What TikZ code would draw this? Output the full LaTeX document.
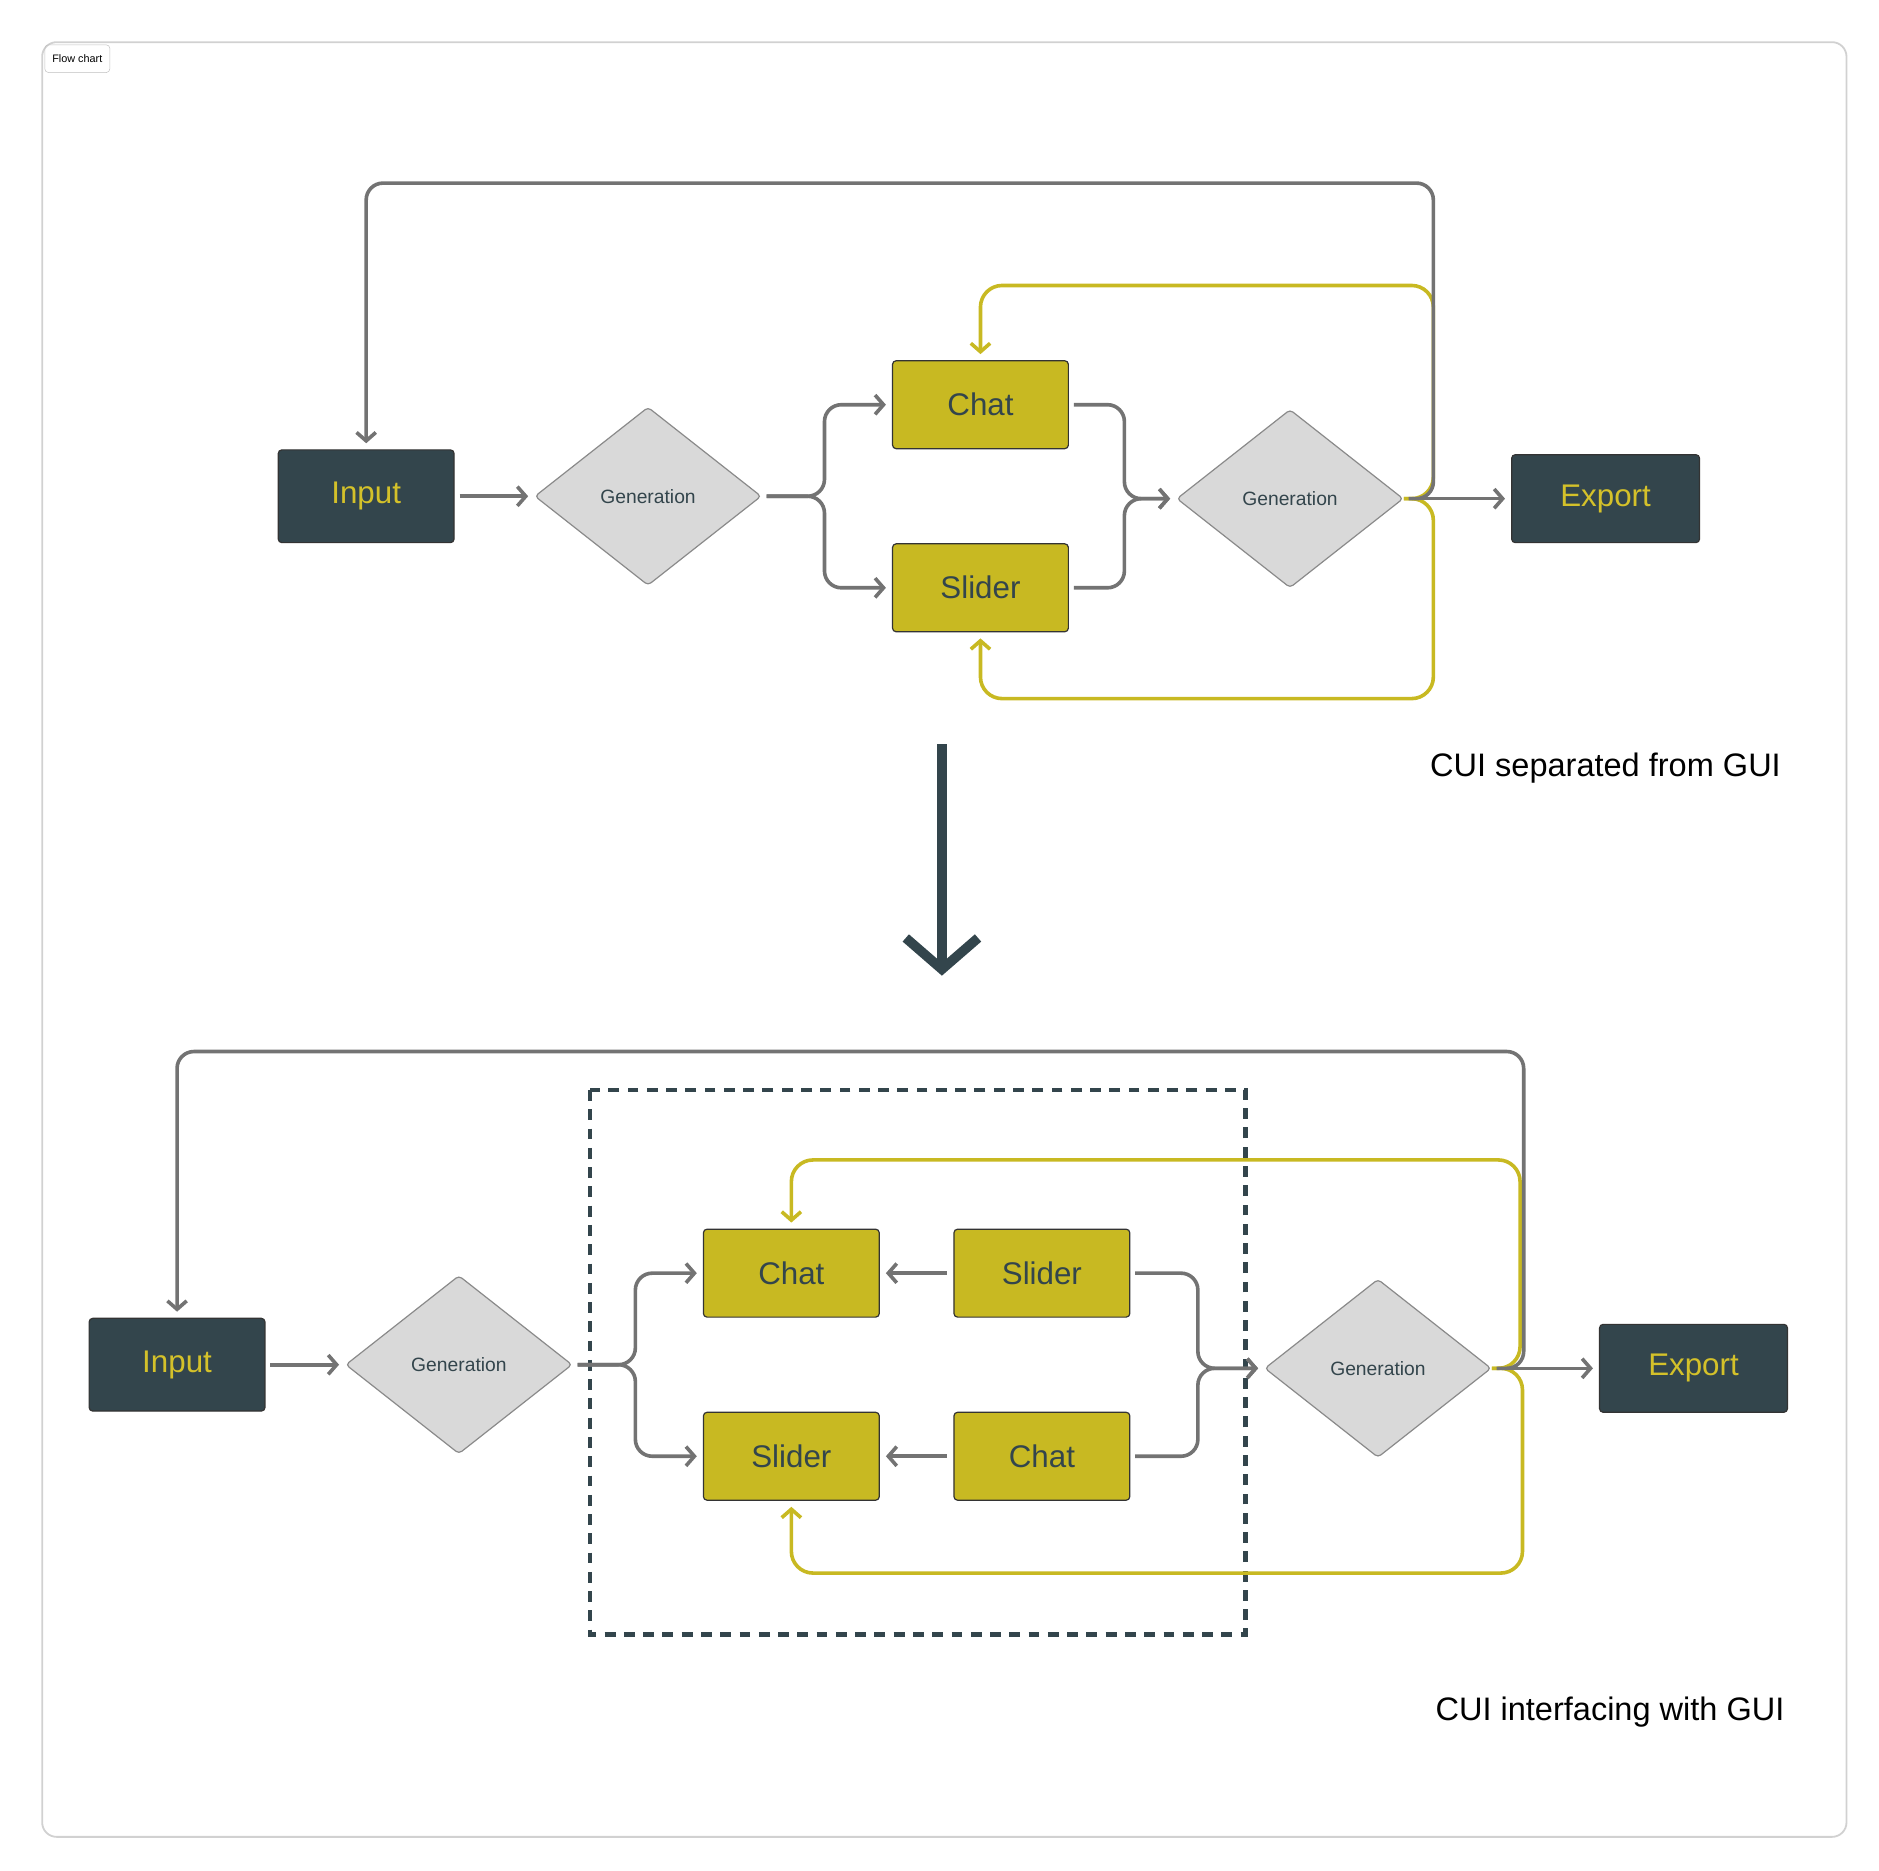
\documentclass[tikz,border=0pt]{standalone}
\usepackage{fontspec}
\setmainfont{Liberation Sans}
\usetikzlibrary{shapes.geometric,arrows.meta}
\definecolor{dk}{HTML}{33454C}
\definecolor{yf}{HTML}{C8B922}
\definecolor{yt}{HTML}{D4C12A}
\definecolor{gl}{HTML}{737373}
\definecolor{df}{HTML}{D9D9D9}
\definecolor{db}{HTML}{8A8A8A}
\begin{document}
\begin{tikzpicture}[x=1pt,y=-1pt,
 dkbox/.style={draw=black!80,fill=dk,text=yt,rounded corners=3,minimum width=146pt,minimum height=77pt,font=\fontsize{26}{28}\selectfont,line width=1pt},
 ybox/.style={draw=black!80,fill=yf,text=dk,rounded corners=3,minimum width=146pt,minimum height=73pt,font=\fontsize{26}{28}\selectfont,line width=1pt},
 dia/.style={diamond,draw=db,fill=df,minimum width=188pt,minimum height=148pt,inner sep=0,rounded corners=3,font=\fontsize{16}{18}\selectfont,text=dk,line width=1pt},
 tip/.style={-{Straight Barb[length=7pt,width=16pt,line width=3pt]}},
 con/.style={draw=gl,line width=3pt,rounded corners=14,tip,shorten >=5pt,shorten <=4pt},
 ycon/.style={draw=yf,line width=3pt,rounded corners=18,tip,shorten >=5pt},
 captxt/.style={font=\fontsize{27}{30}\selectfont,anchor=east}]
\useasboundingbox (0,0) rectangle (1560,1553);
\draw[black!18,line width=1.5pt,rounded corners=12] (35,35) rectangle (1533,1525);
\node[draw=black!25,rounded corners=3,font=\fontsize{9}{10}\selectfont,anchor=north west,minimum width=54pt,minimum height=23pt,inner sep=2pt] (tag) at (37,37) {Flow chart};
% top
\node[dkbox] (in1) at (304,412) {Input};
\node[dia] (ga1) at (538,412) {Generation};
\node[ybox] (ch1) at (814,336) {Chat};
\node[ybox] (sl1) at (814,488) {Slider};
\node[dia] (gb1) at (1071,414) {Generation};
\node[dkbox,minimum width=156pt,minimum height=73pt] (ex1) at (1333,414) {Export};
\coordinate (ta) at (1190,152);
\coordinate (tb) at (1190,237);
\coordinate (tc) at (1190,580);
\draw[ycon] (gb1.east) -| (tb) -| (ch1.north);
\draw[ycon] (gb1.east) -| (tc) -| (sl1.south);
\draw[con] (gb1.east) -| (ta) -| (in1.north);
\draw[con] (in1) -- (ga1);
\draw[con] (ga1.east) -- ++(52,0) |- (ch1.west);
\draw[con] (ga1.east) -- ++(52,0) |- (sl1.west);
\draw[con] (ch1.east) -- ++(46,0) |- (gb1.west);
\draw[con] (sl1.east) -- ++(46,0) |- (gb1.west);
\draw[con] (gb1) -- (ex1);
% big arrow
\coordinate (ba) at (782,618);
\coordinate (bb) at (782,810);
\draw[dk,line width=8pt,-{Straight Barb[length=26pt,width=60pt,line width=8pt]}] (ba) -- (bb);
\node[captxt] (c1) at (1482,638) {CUI separated from GUI};
% bottom
\draw[dk,line width=3.5pt,dash pattern=on 9pt off 7pt] (490,905) rectangle (1034,1357);
\node[dkbox] (in2) at (147,1133) {Input};
\node[dia] (ga2) at (381,1133) {Generation};
\node[ybox] (ch2) at (657,1057) {Chat};
\node[ybox] (sl2) at (865,1057) {Slider};
\node[ybox] (sl3) at (657,1209) {Slider};
\node[ybox] (ch3) at (865,1209) {Chat};
\node[dia] (gb2) at (1144,1136) {Generation};
\node[dkbox,minimum width=156pt,minimum height=73pt] (ex2) at (1406,1136) {Export};
\coordinate (ua) at (1265,873);
\coordinate (ub) at (1262,963);
\coordinate (uc) at (1264,1306);
\draw[ycon] (gb2.east) -| (ub) -| (ch2.north);
\draw[ycon] (gb2.east) -| (uc) -| (sl3.south);
\draw[con] (gb2.east) -| (ua) -| (in2.north);
\draw[con] (in2) -- (ga2);
\draw[con] (ga2.east) -- ++(52,0) |- (ch2.west);
\draw[con] (ga2.east) -- ++(52,0) |- (sl3.west);
\draw[con,{Straight Barb[length=7pt,width=16pt,line width=3pt]}-,shorten <=5pt] (ch2) -- (sl2);
\draw[con,{Straight Barb[length=7pt,width=16pt,line width=3pt]}-,shorten <=5pt] (sl3) -- (ch3);
\draw[con] (sl2.east) -- ++(56,0) |- (gb2.west);
\draw[con] (ch3.east) -- ++(56,0) |- (gb2.west);
\draw[con] (gb2) -- (ex2);
\node[captxt] (c2) at (1485,1421) {CUI interfacing with GUI};
\end{tikzpicture}
\end{document}
